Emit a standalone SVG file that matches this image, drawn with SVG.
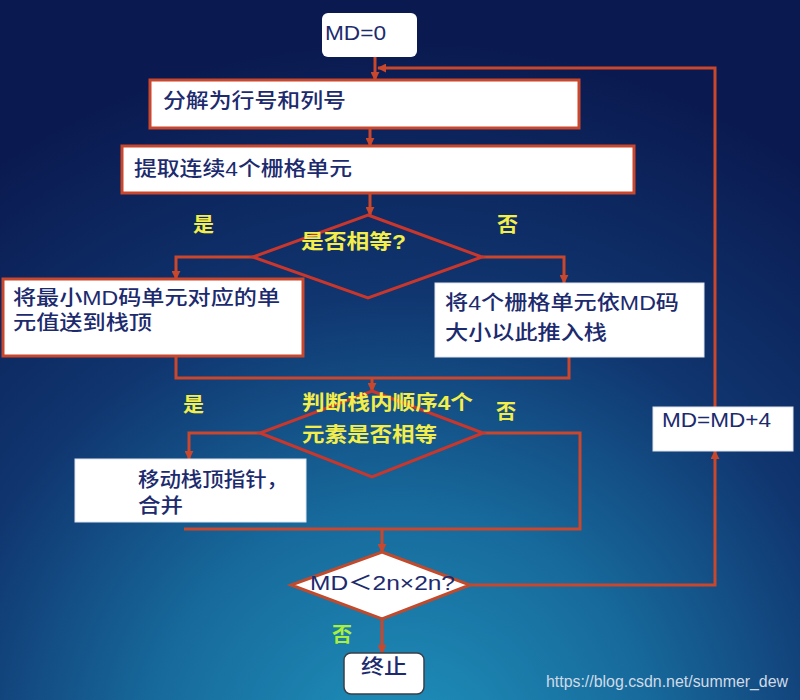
<svg xmlns="http://www.w3.org/2000/svg" width="800" height="700" viewBox="0 0 800 700">
<defs>
<radialGradient id="bg" cx="400" cy="760" r="720" gradientUnits="userSpaceOnUse">
<stop offset="0" stop-color="#1f93bc"/>
<stop offset="0.35" stop-color="#176a9c"/>
<stop offset="0.65" stop-color="#10356f"/>
<stop offset="1" stop-color="#0a1a50"/>
</radialGradient>
<marker id="ah" viewBox="0 0 10 10" refX="9" refY="5" markerWidth="3" markerHeight="3" orient="auto">
<path d="M0,0 L10,5 L0,10 z" fill="#c9472c"/>
</marker>
<style>
.box{fill:#ffffff;stroke:#c9472c;stroke-width:3}
.plain{fill:#ffffff;stroke:#dfe4ee;stroke-width:1}
.dia{fill:none;stroke:#c9372c;stroke-width:3}
.diaw{fill:#ffffff;stroke:#c24a2c;stroke-width:3}
.ln{fill:none;stroke:#c9472c;stroke-width:3}
.ar{fill:none;stroke:#c9472c;stroke-width:3;marker-end:url(#ah)}
.t{font-family:"Liberation Sans","Noto Sans CJK SC",sans-serif;font-size:20px;fill:#1c2a6e;font-weight:500}
.y{font-family:"Liberation Sans","Noto Sans CJK SC",sans-serif;font-size:20px;fill:#f4ee4a;font-weight:bold}
.g{font-family:"Noto Sans CJK SC",sans-serif;font-size:20px;fill:#a8f03c;font-weight:bold}
.wm{font-family:"Liberation Sans Narrow","Liberation Sans",sans-serif;font-size:16px;fill:#d0dae6}
</style>
</defs>
<rect x="0" y="0" width="800" height="700" fill="url(#bg)"/>

<g id="connectors">
<path class="ar" d="M375,57 L375,80"/>
<path class="ar" d="M715,407 L715,68 L378,68"/>
<path class="ar" d="M370,128 L370,146"/>
<path class="ar" d="M370,193 L370,215"/>
<path class="ar" d="M253,257 L176,257 L176,279"/>
<path class="ar" d="M482,257 L564,257 L564,283"/>
<path class="ln" d="M176,356 L176,378 L569,378 L569,357"/>
<path class="ar" d="M372,378 L372,391"/>
<path class="ar" d="M260,433 L189,433 L189,459"/>
<path class="ln" d="M483,433 L580,433 L580,529 L184,529"/>
<path class="ar" d="M382,529 L382,552"/>
<path class="ar" d="M470,585 L715,585 L715,451"/>
<path class="ar" d="M382,619 L382,653"/>
</g>

<g id="start">
<rect x="322" y="13" width="95" height="44" rx="6" fill="#ffffff"/>
<text class="t" x="325" y="40" font-size="22" textLength="61" lengthAdjust="spacingAndGlyphs">MD=0</text>
</g>

<g id="split">
<rect class="box" x="150" y="80" width="429" height="48"/>
<text class="t" x="163" y="108" textLength="183" lengthAdjust="spacingAndGlyphs">分解为行号和列号</text>
</g>

<g id="extract">
<rect class="box" x="122" y="146" width="512" height="47"/>
<text class="t" x="134" y="176" textLength="218" lengthAdjust="spacingAndGlyphs">提取连续4个栅格单元</text>
</g>

<g id="equal">
<polygon class="dia" points="368,215 482,257 368,298 253,257"/>
<text class="y" x="301" y="249" textLength="105" lengthAdjust="spacingAndGlyphs">是否相等?</text>
</g>
<text class="y" x="193" y="232" textLength="21" lengthAdjust="spacingAndGlyphs">是</text>
<text class="y" x="497" y="232" textLength="21" lengthAdjust="spacingAndGlyphs">否</text>

<g id="minmd">
<rect class="box" x="3" y="279" width="300" height="77"/>
<text class="t" x="13" y="305" textLength="267" lengthAdjust="spacingAndGlyphs">将最小MD码单元对应的单</text>
<text class="t" x="13" y="330" textLength="139" lengthAdjust="spacingAndGlyphs">元值送到栈顶</text>
</g>

<g id="push">
<rect class="plain" x="435" y="283" width="269" height="74"/>
<text class="t" x="445" y="310" textLength="234" lengthAdjust="spacingAndGlyphs">将4个栅格单元依MD码</text>
<text class="t" x="445" y="340" textLength="162" lengthAdjust="spacingAndGlyphs">大小以此推入栈</text>
</g>

<g id="judge">
<polygon class="dia" points="372,391 483,433 372,477 260,433"/>
<text class="y" x="302" y="410" textLength="171" lengthAdjust="spacingAndGlyphs">判断栈内顺序4个</text>
<text class="y" x="302" y="442" textLength="135" lengthAdjust="spacingAndGlyphs">元素是否相等</text>
</g>
<text class="y" x="183" y="412" textLength="21" lengthAdjust="spacingAndGlyphs">是</text>
<text class="y" x="496" y="419" textLength="20" lengthAdjust="spacingAndGlyphs">否</text>

<g id="merge">
<rect class="plain" x="75" y="459" width="231" height="63"/>
<text class="t" x="138" y="487" textLength="150" lengthAdjust="spacingAndGlyphs">移动栈顶指针，</text>
<text class="t" x="138" y="513" textLength="45" lengthAdjust="spacingAndGlyphs">合并</text>
</g>

<g id="inc">
<rect class="plain" x="653" y="407" width="140" height="44"/>
<text class="t" x="662" y="427" font-size="21" textLength="109" lengthAdjust="spacingAndGlyphs">MD=MD+4</text>
</g>

<g id="check">
<polygon class="diaw" points="382,552 470,585 382,619 291,585"/>
<text class="t" x="310" y="590" font-size="21" textLength="145" lengthAdjust="spacingAndGlyphs">MD＜2n×2n?</text>
</g>
<text class="g" x="332" y="642" textLength="20" lengthAdjust="spacingAndGlyphs">否</text>

<g id="end">
<rect x="344" y="653" width="80" height="41" rx="7" fill="#ffffff" stroke="#3a3f4a" stroke-width="1.5"/>
<text class="t" x="361" y="674" textLength="46" lengthAdjust="spacingAndGlyphs">终止</text>
</g>

<text class="wm" x="546" y="687" textLength="242" lengthAdjust="spacingAndGlyphs">https://blog.csdn.net/summer_dew</text>
</svg>
